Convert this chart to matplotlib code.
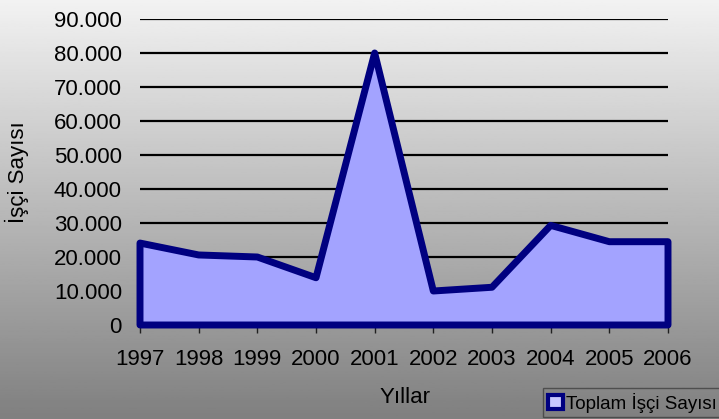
import numpy as np
import matplotlib.pyplot as plt
from matplotlib.patches import Patch
from matplotlib.ticker import FuncFormatter

plt.rcParams['font.family'] = ['Liberation Sans', 'DejaVu Sans']

# data
years = ['1997', '1998', '1999', '2000', '2001', '2002', '2003', '2004', '2005', '2006']
workers = [24100, 20600, 20000, 13900, 80000, 10000, 11100, 29300, 24500, 24500]
y_ticks = [0, 10000, 20000, 30000, 40000, 50000, 60000, 70000, 80000, 90000]

fill_col = '#a3a3ff'
line_col = '#000080'

fig = plt.figure(figsize=(7.19, 4.19), dpi=100)

# grey gradient background
bg = fig.add_axes([0, 0, 1, 1], zorder=-10)
grad = np.linspace(0.95, 0.5, 256).reshape(-1, 1)
bg.imshow(grad, aspect='auto', cmap='gray', vmin=0, vmax=1, extent=[0, 1, 0, 1])
bg.axis('off')

ax = fig.add_axes([140 / 719, 1 - 325 / 419, 528 / 719, 306 / 419])
ax.patch.set_alpha(0)

x = np.arange(len(years))
px = np.concatenate([[x[0]], x, [x[-1]]])
py = np.concatenate([[0], workers, [0]])
ax.fill(px, py, facecolor=fill_col, edgecolor=line_col, linewidth=5,
        joinstyle='round', clip_on=False, zorder=3)

for t in y_ticks[1:]:
    ax.axhline(t, color='black', linewidth=1.6, zorder=1)

ax.set_xlim(0, len(years) - 1)
ax.set_ylim(0, 90000)
ax.set_xticks(x)
ax.set_xticklabels(years, fontsize=16)
ax.set_yticks(y_ticks)
ax.yaxis.set_major_formatter(FuncFormatter(lambda v, p: f'{int(v):,}'.replace(',', '.')))
ax.tick_params(axis='y', length=0, pad=13, labelsize=16)
ax.tick_params(axis='x', length=6, width=1, color='#202020', direction='out', pad=11)
for s in ax.spines.values():
    s.set_visible(False)

fig.text(17 / 719, 1 - 172 / 419, 'İşçi Sayısı', fontsize=16, rotation=90,
         ha='center', va='center')
fig.text(405 / 719, 1 - 397 / 419, 'Yıllar', fontsize=16, ha='center', va='center')

handle = Patch(facecolor='#c8c8ff', edgecolor=line_col, linewidth=3)
leg = fig.legend([handle], ['Toplam İşçi Sayısı'], loc='upper left',
                 bbox_to_anchor=(543 / 719, 1 - 388 / 419), fontsize=13.5,
                 frameon=True, fancybox=False, borderpad=0.25, handlelength=0.8,
                 handleheight=0.8, handletextpad=0.2, borderaxespad=0)
leg.get_frame().set_edgecolor('#404040')
leg.get_frame().set_facecolor('none')
leg.get_frame().set_linewidth(1)

fig.savefig('out.png', dpi=100)
